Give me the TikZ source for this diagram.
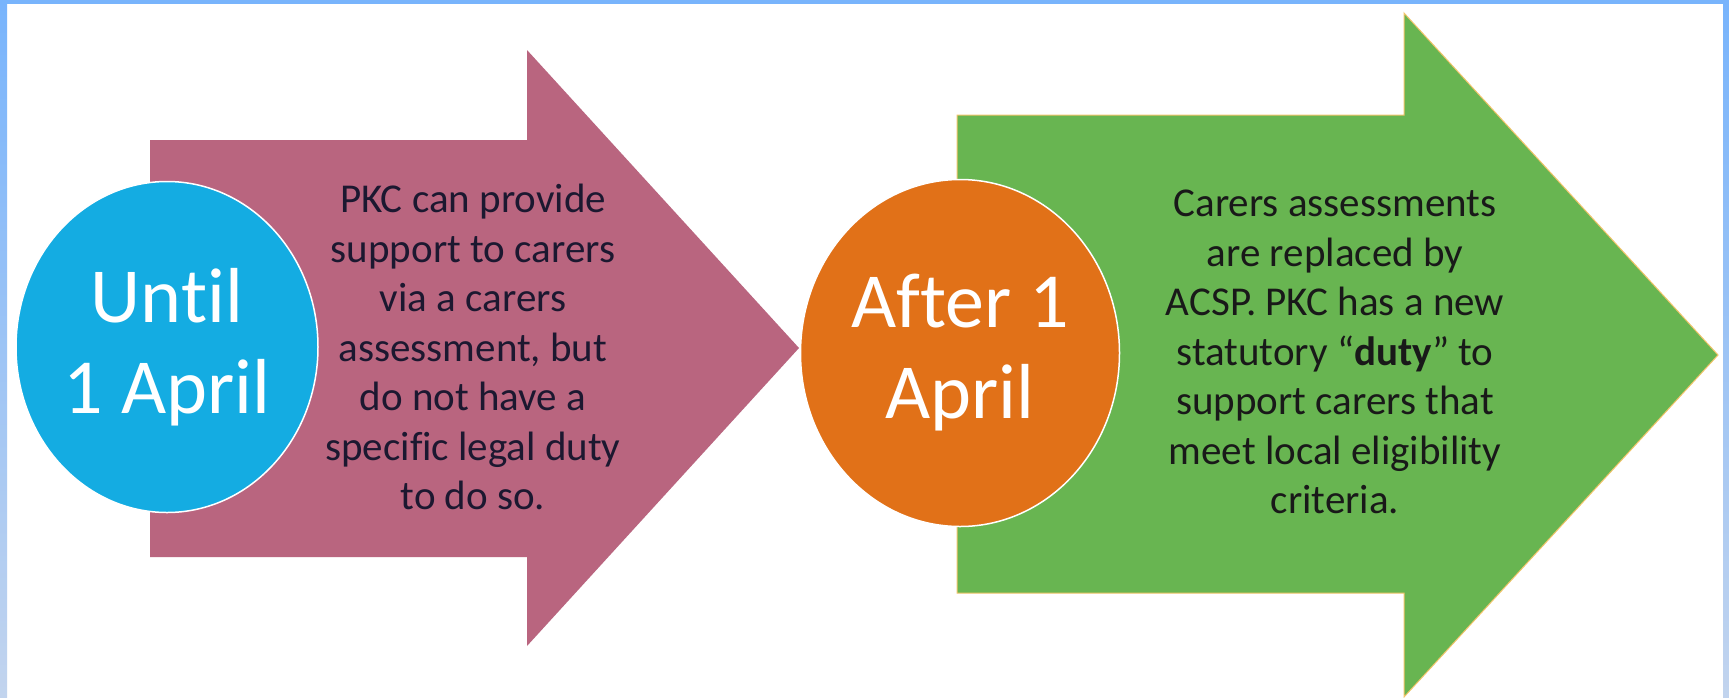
\documentclass[tikz,border=0pt]{standalone}
\usepackage{fontspec}
\setmainfont{Carlito}[Ligatures=NoCommon]
\usepackage{xcolor}
\usetikzlibrary{shapes.geometric, positioning, calc}

\definecolor{framebluetop}{HTML}{78B4FC}
\definecolor{framebluebot}{HTML}{C2D4EE}
\definecolor{arrowpink}{HTML}{B9657F}
\definecolor{arrowgreen}{HTML}{68B551}
\definecolor{greenedge}{HTML}{F2C46A}
\definecolor{circleblue}{HTML}{14ACE2}
\definecolor{circleorange}{HTML}{E17118}
\definecolor{pinktext}{HTML}{1C1830}

\begin{document}
\begin{tikzpicture}[x=1pt, y=-1pt,
    datecircle/.style={ellipse, draw=white, line width=1.5pt, inner sep=0pt, text=white, align=center, font=\fontsize{78}{91}\selectfont},
    infotext/.style={align=center, font=\fontsize{41}{49.5}\selectfont}]
    \useasboundingbox (0, 0) rectangle (1729, 697);
    \fill[white] (0, 0) rectangle (1729, 697);

    % frame
    \fill[framebluetop] (0, 0) rectangle (1729, 4);
    \shade[top color=framebluetop, bottom color=framebluebot] (0, 0) rectangle (7, 697);
    \shade[top color=framebluetop, bottom color=framebluebot] (1723, 0) rectangle (1729, 697);

    % arrows
    \fill[arrowpink] (150, 140) -- (527, 140) -- (527, 50) -- (799, 348) -- (527, 646) -- (527, 557) -- (150, 557) -- cycle;
    \filldraw[fill=arrowgreen, draw=greenedge, line width=1pt] (957, 115) -- (1404, 115) -- (1404, 13) -- (1718, 355) -- (1404, 697) -- (1404, 593) -- (957, 593) -- cycle;

    % circles
    \node[datecircle, fill=circleblue, minimum width=302pt, minimum height=331pt] (until) at (167, 347) {Until\\1 April};
    \node[datecircle, fill=circleorange, minimum width=319pt, minimum height=347pt] (after) at (960, 353) {After 1\\April};

    \node[infotext, text=pinktext] (until text) at (473, 347) {PKC can provide\\support to carers\\via a carers\\assessment, but\\do not have a\\specific legal duty\\to do so.};
    \node[infotext, text=black!90] (after text) at (1335, 352) {Carers assessments\\are replaced by\\ACSP. PKC has a new\\statutory “\textbf{duty}” to\\support carers that\\meet local eligibility\\criteria.};
\end{tikzpicture}
\end{document}
